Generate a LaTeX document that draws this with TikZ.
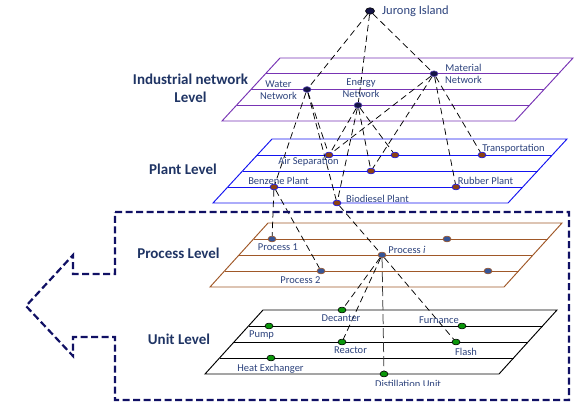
\documentclass[tikz,border=0pt]{standalone}
\usepackage{fontspec}
\setmainfont{Carlito}
\usetikzlibrary{shapes.geometric,calc,backgrounds}

\definecolor{netpurple}{RGB}{120,52,180}
\definecolor{plantblue}{RGB}{20,20,240}
\definecolor{procbrown}{RGB}{160,88,40}
\definecolor{boxnavy}{RGB}{16,16,100}
\definecolor{capcol}{RGB}{31,52,100}
\definecolor{lblcol}{RGB}{44,66,124}
\definecolor{topfill}{RGB}{20,20,70}
\definecolor{topedge}{RGB}{90,70,180}
\definecolor{plantfill}{RGB}{140,65,20}
\definecolor{procfill}{RGB}{55,85,150}
\definecolor{unitfill}{RGB}{10,150,10}

\tikzset{
  planeline/.style={line width=0.95pt},
  conn/.style={draw=black, line width=0.75pt, dash pattern=on 6.5pt off 4pt},
  connlong/.style={draw=black!80, line width=0.75pt, dash pattern=on 10pt off 4pt},
  dot/.style={ellipse, inner sep=0pt, minimum width=8pt, minimum height=5.8pt, line width=0.6pt},
  topdot/.style={dot, fill=topfill, draw=topedge},
  plantdot/.style={dot, fill=plantfill, draw=plantblue},
  procdot/.style={dot, fill=procfill, draw=procbrown},
  unitdot/.style={dot, fill=unitfill, draw=black},
  lbl/.style={font=\fontsize{10.5}{12}\selectfont, text=lblcol, inner sep=0pt},
  levelcap/.style={font=\fontsize{15}{18}\selectfont\bfseries, text=capcol, inner sep=0pt, align=center},
  arrowbox/.style={draw=boxnavy, line width=2.2pt, dash pattern=on 7pt off 3.5pt, line join=miter}
}

\begin{document}
\begin{tikzpicture}[x=1pt,y=-1pt]
\useasboundingbox (0,0) rectangle (577,404);

% ---- nodes of the four levels ----
\node[dot, minimum width=9pt, minimum height=6.5pt, fill=topfill, draw=black] (jur) at (370,11) {};
\node[topdot] (wat) at (307,89.5) {};
\node[topdot] (ene) at (358,105.25) {};
\node[topdot] (mat) at (434,73.75) {};

\node[plantdot] (air) at (329,155) {};
\node[plantdot] (pB)  at (395,155) {};
\node[plantdot] (tra) at (482,155) {};
\node[plantdot] (pC)  at (371,171) {};
\node[plantdot] (ben) at (274,187) {};
\node[plantdot] (rub) at (456,187) {};
\node[plantdot] (bio) at (337,203) {};

\node[procdot] (pr1) at (272,239) {};
\node[procdot] (pA)  at (447,239) {};
\node[procdot] (pri) at (382,255) {};
\node[procdot] (pr2) at (321,271) {};
\node[procdot] (pD)  at (488,271) {};

\node[unitdot] (dec) at (342,310) {};
\node[unitdot] (pum) at (269,326) {};
\node[unitdot] (fur) at (462,326) {};
\node[unitdot] (rea) at (342,342) {};
\node[unitdot] (fla) at (456,342) {};
\node[unitdot] (hex) at (271,358) {};
\node[unitdot] (dis) at (384,374) {};

% ---- labels ----
\node[lbl, anchor=base west, font=\fontsize{12.5}{14}\selectfont] (tjur) at (382,14.5) {Jurong Island};
\node[lbl, align=center] (twat) at (278.5,90.5) {Water\\Network};
\node[lbl, align=center] (tene) at (361,88.5) {Energy\\Network};
\node[lbl, align=center] (tmat) at (463.5,73.5) {Material\\Network};

\node[lbl, anchor=base] (tair) at (308.5,164.5) {Air Separation};
\node[lbl, anchor=base] (ttra) at (513.5,151.5) {Transportation};
\node[lbl, anchor=base] (tben) at (278.5,184.5) {Benzene Plant};
\node[lbl, anchor=base] (trub) at (485.5,184.5) {Rubber Plant};
\node[lbl, anchor=base] (tbio) at (377.5,202.5) {Biodiesel Plant};

\node[lbl, anchor=base] (tpr1) at (278,250.5) {Process 1};
\node[lbl, anchor=base] (tpri) at (407,253.5) {Process \textit{i}};
\node[lbl, anchor=base] (tpr2) at (300.5,283.5) {Process 2};

\node[lbl, anchor=base] (tdec) at (341,321.5) {Decanter};
\node[lbl, anchor=base] (tfur) at (439,323.5) {Furnance};
\node[lbl, anchor=base] (tpum) at (261.5,337.5) {Pump};
\node[lbl, anchor=base] (trea) at (350.5,353.5) {Reactor};
\node[lbl, anchor=base] (tfla) at (466,355.5) {Flash};
\node[lbl, anchor=base] (thex) at (270.5,371.5) {Heat Exchanger};
% the last label is cut off along its lower edge
\begin{scope}
  \clip (340,370) rectangle (470,385.5);
  \node[lbl, anchor=base] (tdis) at (408,387) {Distillation Unit};
\end{scope}

% ---- level captions ----
\node[levelcap] (cnet)  at (190.5,88) {Industrial network\\Level};
\node[levelcap, anchor=base] (cpla) at (183,174.8) {Plant Level};
\node[levelcap, anchor=base] (cpro) at (178.5,258.8) {Process Level};
\node[levelcap, anchor=base] (cuni) at (179,344.8) {Unit Level};

% ---- dashed arrow frame round the process and unit levels ----
\draw[arrowbox] (115,212) -- (569,212) -- (569,400) -- (115,400) -- (115,337)
  -- (73,337) -- (73,356) -- (26,306) -- (73,255) -- (73,274) -- (115,274) -- cycle;

\begin{pgfonlayer}{background}
% ---- level planes ----
\foreach \tlx/\tly/\trx/\blx/\bly/\col in {280/58/573/222/121/netpurple,
    272/139/567/213/203/plantblue, 268/223/562/210/287/procbrown, 263/310/557/205/374/black}{
  \pgfmathsetmacro\w{\trx-\tlx}
  \draw[planeline, draw=\col] (\tlx,\tly) -- (\trx,\tly) -- (\blx+\w,\bly) -- (\blx,\bly) -- cycle;
  \foreach \t in {0.25,0.5,0.75}
    \draw[planeline, draw=\col] ($(\tlx,\tly)!\t!(\blx,\bly)$) -- ++(\w,0);
}

% ---- links between levels ----
\draw[conn] (jur) -- (wat);
\draw[conn] (jur) -- (ene);
\draw[conn] (jur) -- (mat);

\draw[conn] (wat) -- (ben);
\draw[conn] (wat) -- (air);
\draw[conn] (wat) -- (bio);
\draw[conn] (ene) -- (air);
\draw[conn] (ene) -- (bio);
\draw[conn] (ene) -- (pC);
\draw[conn] (ene) -- (pB);
\draw[conn] (mat) -- (air);
\draw[conn] (mat) -- (pC);
\draw[conn] (mat) -- (tra);
\draw[conn] (mat) -- (rub);

\draw[conn] (ben) -- (pr1);
\draw[conn] (ben) -- (pr2);
\draw[conn] (bio) -- (pri);

\draw[conn] (pri) -- (dec);
\draw[conn] (pri) -- (rea);
\draw[connlong] (pri) -- (dis);
\draw[conn] (pri) -- (fla);
\end{pgfonlayer}
\end{tikzpicture}
\end{document}
